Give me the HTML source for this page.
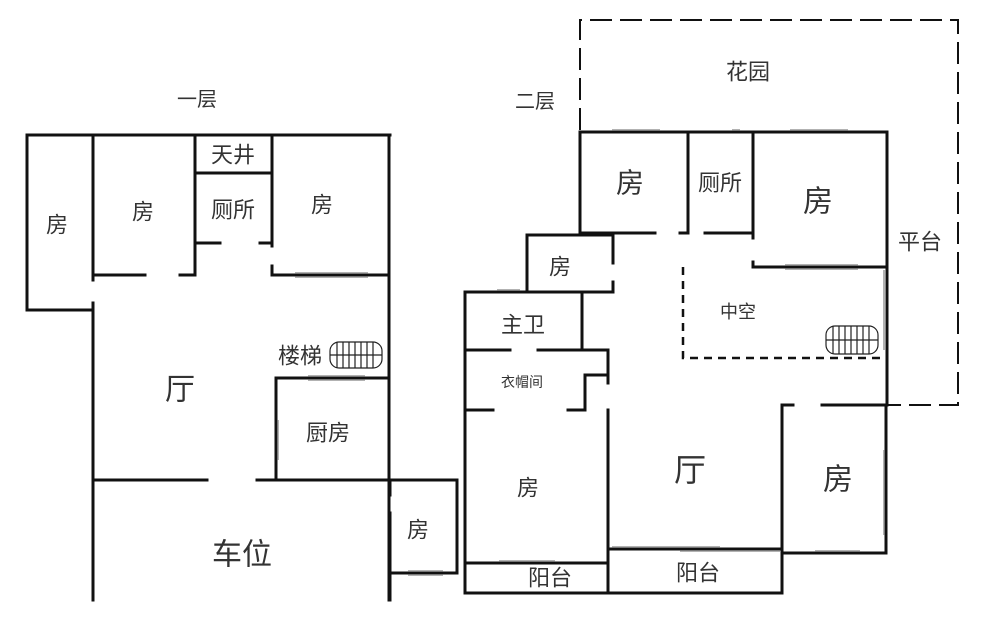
<!DOCTYPE html>
<html><head><meta charset="utf-8"><style>
body{margin:0;background:#fff}
svg{display:block}
text{font-family:"Liberation Sans","Noto Sans CJK SC",sans-serif;fill:#333;text-anchor:middle;dominant-baseline:central}
</style></head><body>
<svg width="1000" height="640" viewBox="0 0 1000 640" xmlns="http://www.w3.org/2000/svg">
<g stroke="#111" stroke-width="3" fill="none" stroke-linecap="square">
<!-- floor 1 -->
<path d="M27 135H390"/>
<path d="M27 135V310H93"/>
<path d="M93 135V280M93 303V600"/>
<path d="M93 275H145M180 275H195"/>
<path d="M195 135V275"/>
<path d="M195 173H272"/>
<path d="M195 243H220M260 243H272"/>
<path d="M272 135V246M272 266V275H388"/>
<path d="M389 135V600"/>
<path d="M276 378H388M276 378V480"/>
<path d="M93 480H207M257 480H457V573H390"/>
<path d="M390 480V495M390 513V600"/>
<!-- floor 2 -->
<path d="M580 132H887"/>
<path d="M580 132V233H655M680 233H688M688 132V233M705 233H752"/>
<path d="M753 132V238M753 262V267H887"/>
<path d="M887 132V405M886 405V553H782"/>
<path d="M527 235H613M527 235V292M613 235V263M613 282V292"/>
<path d="M465 292H613M465 292V593H782"/>
<path d="M582 292V350"/>
<path d="M465 350H510M538 350H608V383M608 410V593"/>
<path d="M585 375H608M585 375V410H568M465 410H493"/>
<path d="M465 563H608M608 549H782"/>
<path d="M782 405V593M782 405H793M822 405H886"/>
</g>
<g stroke="#111" stroke-width="2" fill="none" stroke-dasharray="22 8">
<path d="M580 130V20H958V405H886"/>
</g>
<g stroke="#111" stroke-width="2.5" fill="none" stroke-dasharray="8 6">
<path d="M683 267V358H887"/>
</g>
<!-- windows -->
<g stroke="#999" stroke-width="1.5" fill="none">
<path d="M295 273H368M295 277H368"/>
<path d="M308 376H365M308 380H365"/>
<path d="M408 571H443M408 575H443"/>
<path d="M612 130H660M732 130H740M790 130H848"/>
<path d="M785 265H858M785 269H858"/>
<path d="M497 290H520M499 561H555M612 547H720M680 551H780M815 551H860"/>
<path d="M884 270V350M884 450V535"/>
<path d="M278 420V460"/>
</g>
<!-- stairs -->
<g stroke="#222" stroke-width="1.2" fill="none">
<rect x="330" y="342" width="52" height="26" rx="9"/>
<path d="M337 342V368M343 342V368M349 342V368M355 342V368M361 342V368M367 342V368M373 342V368M330 355H382"/>
<rect x="826" y="326" width="52" height="28" rx="9"/>
<path d="M833 326V354M839 326V354M845 326V354M851 326V354M857 326V354M863 326V354M869 326V354M826 340H878"/>
</g>
<g font-size="22">
<text x="197" y="100" font-size="20">一层</text>
<text x="57" y="225">房</text>
<text x="143" y="212">房</text>
<text x="233" y="155">天井</text>
<text x="233" y="210">厕所</text>
<text x="322" y="205">房</text>
<text x="180" y="390" font-size="30">厅</text>
<text x="300" y="356">楼梯</text>
<text x="328" y="433">厨房</text>
<text x="242" y="555" font-size="30">车位</text>
<text x="418" y="530">房</text>
<text x="535" y="102" font-size="20">二层</text>
<text x="748" y="72">花园</text>
<text x="630" y="183" font-size="28">房</text>
<text x="720" y="183">厕所</text>
<text x="818" y="202" font-size="30">房</text>
<text x="920" y="242">平台</text>
<text x="560" y="267">房</text>
<text x="738" y="312" font-size="18">中空</text>
<text x="523" y="325">主卫</text>
<text x="522" y="382" font-size="14">衣帽间</text>
<text x="528" y="488">房</text>
<text x="690" y="470" font-size="32">厅</text>
<text x="838" y="480" font-size="30">房</text>
<text x="550" y="578">阳台</text>
<text x="698" y="573">阳台</text>
</g>
</svg>
</body></html>
